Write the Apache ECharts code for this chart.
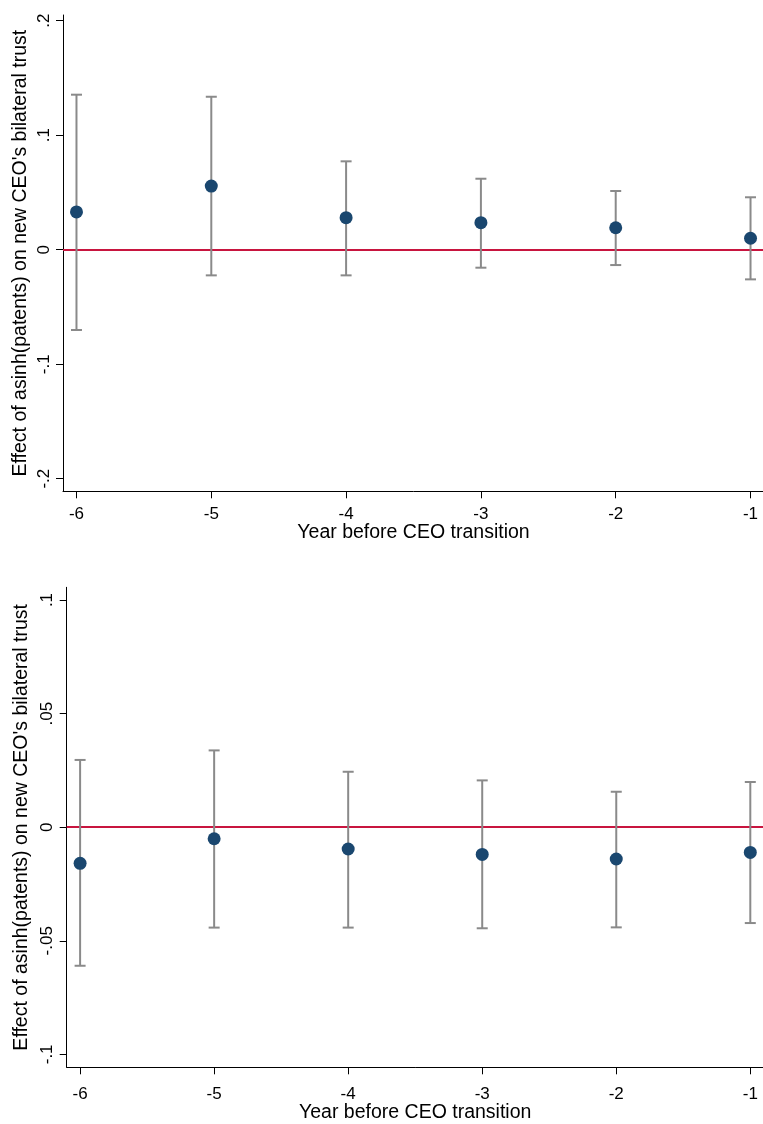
<!DOCTYPE html>
<html>
<head>
<meta charset="utf-8">
<script src="https://cdn.jsdelivr.net/npm/echarts@6/dist/echarts.min.js"></script>
<style>
html,body{margin:0;padding:0;background:#fff;}
#c{width:763px;height:1124px;}
</style>
</head>
<body>
<div id="c"></div>
<script>
// ---- Data ----
var years = [-6, -5, -4, -3, -2, -1];
var xTickLabels = ['-6', '-5', '-4', '-3', '-2', '-1'];

// Panel 1
var topEst = [0.033, 0.0556, 0.028, 0.0236, 0.0192, 0.010];
var topLo  = [-0.0701, -0.0224, -0.0224, -0.0157, -0.0134, -0.0259];
var topHi  = [0.1354, 0.1336, 0.0772, 0.0620, 0.0513, 0.0458];
var topYTicks = [-0.2, -0.1, 0, 0.1, 0.2];
var topYTickLabels = ['-.2', '-.1', '0', '.1', '.2'];

// Panel 2
var botEst = [-0.0159, -0.0051, -0.0096, -0.0120, -0.0140, -0.0111];
var botLo  = [-0.0610, -0.0442, -0.0442, -0.0445, -0.0441, -0.0422];
var botHi  = [0.0296, 0.0338, 0.0244, 0.0206, 0.0156, 0.0199];
var botYTicks = [-0.1, -0.05, 0, 0.05, 0.1];
var botYTickLabels = ['-.1', '-.05', '0', '.05', '.1'];

var yTitle = "Effect of asinh(patents) on new CEO's bilateral trust";
var xTitle = 'Year before CEO transition';

// ---- Chart ----
var FONT = 'Liberation Sans, Arial, sans-serif';
var MARKER = '#1a476f';
var BAR = '#8a8a8a';
var ZERO = '#c8153f';

function labelFor(ticks, labels) {
  return function (v) {
    for (var i = 0; i < ticks.length; i++) {
      if (Math.abs(ticks[i] - v) < 1e-9) return labels[i];
    }
    return '';
  };
}

function errRender(params, api) {
  var x = api.value(0), lo = api.value(1), hi = api.value(2);
  var a = api.coord([x, lo]), b = api.coord([x, hi]);
  var h = 5.5;
  var st = { stroke: BAR, lineWidth: 2 };
  return {
    type: 'group',
    children: [
      { type: 'line', shape: { x1: a[0], y1: a[1], x2: b[0], y2: b[1] }, style: st },
      { type: 'line', shape: { x1: a[0] - h, y1: a[1], x2: a[0] + h, y2: a[1] }, style: st },
      { type: 'line', shape: { x1: b[0] - h, y1: b[1], x2: b[0] + h, y2: b[1] }, style: st }
    ]
  };
}

function xAxisFor(gi, labelMargin, nameGap) {
  return {
    type: 'value', gridIndex: gi, min: -6.1, max: -0.9,
    splitLine: { show: false },
    axisLine: { show: true, onZero: false, lineStyle: { color: '#000', width: 1 } },
    axisTick: { show: true, length: 7, customValues: years, lineStyle: { color: '#000' } },
    axisLabel: { show: true, customValues: years, margin: labelMargin, fontSize: 17, color: '#000', fontFamily: FONT,
      formatter: labelFor(years, xTickLabels) },
    name: xTitle, nameLocation: 'middle', nameGap: nameGap, nameMoveOverlap: false,
    nameTextStyle: { fontSize: 19.5, color: '#000', fontFamily: FONT }
  };
}

function yAxisFor(gi, mn, mx, ticks, labels, labelMargin, nameGap) {
  return {
    type: 'value', gridIndex: gi, min: mn, max: mx,
    splitLine: { show: false },
    axisLine: { show: true, onZero: false, lineStyle: { color: '#000', width: 1 } },
    axisTick: { show: true, length: 7, customValues: ticks, lineStyle: { color: '#000' } },
    axisLabel: { show: true, customValues: ticks, rotate: 90, margin: labelMargin, fontSize: 17, color: '#000', fontFamily: FONT,
      formatter: labelFor(ticks, labels) },
    name: yTitle, nameLocation: 'middle', nameRotate: 90, nameGap: nameGap, nameMoveOverlap: false,
    nameTextStyle: { fontSize: 19.5, color: '#000', fontFamily: FONT }
  };
}

function zip3(a, b, c) { return a.map(function (v, i) { return [v, b[i], c[i]]; }); }
function zip2(a, b) { return a.map(function (v, i) { return [v, b[i]]; }); }

var option = {
  animation: false,
  backgroundColor: '#fff',
  grid: [
    { left: 63, top: 15, width: 701, height: 476.3, outerBoundsMode: 'none', containLabel: false },
    { left: 66.7, top: 587.3, width: 697, height: 480, outerBoundsMode: 'none', containLabel: false }
  ],
  xAxis: [xAxisFor(0, 15, 31), xAxisFor(1, 19, 35)],
  yAxis: [
    yAxisFor(0, -0.211, 0.205, topYTicks, topYTickLabels, 10, 32),
    yAxisFor(1, -0.1057, 0.1056, botYTicks, botYTickLabels, 11, 35.5)
  ],
  series: [
    { type: 'custom', xAxisIndex: 0, yAxisIndex: 0, renderItem: errRender, encode: { x: 0, y: [1, 2] },
      data: zip3(years, topLo, topHi), z: 2, silent: true },
    { type: 'scatter', xAxisIndex: 0, yAxisIndex: 0, data: zip2(years, topEst), symbolSize: 13,
      itemStyle: { color: MARKER, opacity: 1 }, z: 3, silent: true,
      markLine: { silent: true, symbol: 'none', label: { show: false }, z: 1,
        lineStyle: { color: ZERO, width: 2, type: 'solid' }, data: [{ yAxis: 0 }] } },
    { type: 'custom', xAxisIndex: 1, yAxisIndex: 1, renderItem: errRender, encode: { x: 0, y: [1, 2] },
      data: zip3(years, botLo, botHi), z: 2, silent: true },
    { type: 'scatter', xAxisIndex: 1, yAxisIndex: 1, data: zip2(years, botEst), symbolSize: 13,
      itemStyle: { color: MARKER, opacity: 1 }, z: 3, silent: true,
      markLine: { silent: true, symbol: 'none', label: { show: false }, z: 1,
        lineStyle: { color: ZERO, width: 2, type: 'solid' }, data: [{ yAxis: 0 }] } }
  ]
};

var chart = echarts.init(document.getElementById('c'), null, { renderer: 'canvas' });
chart.setOption(option);
</script>
</body>
</html>
